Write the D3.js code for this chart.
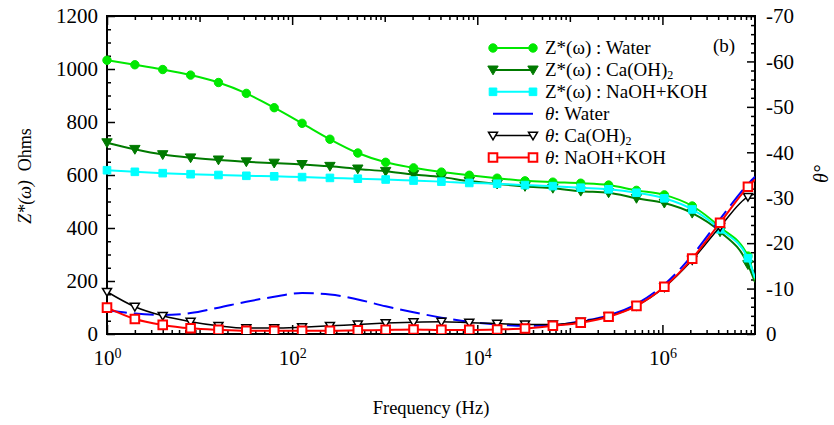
<!DOCTYPE html>
<html>
<head>
<meta charset="utf-8">
<script src="https://cdn.jsdelivr.net/npm/d3@7"></script>
<style>
  body { margin: 0; background: #fff; }
  svg text { font-family: 'Liberation Serif', Tinos, 'Times New Roman', Times, 'DejaVu Serif', serif; }
</style>
</head>
<body>
<svg id="chart" width="834" height="425"></svg>
<script>
// frequencies (Hz): doubling steps, last one is the right edge of the sweep (no marker)
const freqs = [1, 2, 4, 8, 16, 32, 64, 128, 256, 512, 1024, 2048, 4096, 8192, 16384, 32768,
  65536, 131072, 262144, 524288, 1048576, 2097152, 4194304, 8388608, 10000000];

// Z*(w) in Ohms
const zWater = [1033, 1016, 998, 977, 949, 908, 854, 795, 735, 683, 648, 627, 611, 599, 588, 578,
  573, 569, 562, 542, 525, 483, 403, 294, 205];
const zCaOH = [722, 697, 677, 665, 657, 650, 645, 640, 633, 623, 614, 602, 592, 577, 566, 557,
  550, 539, 533, 512, 494, 456, 386, 262, 196];
const zNaKOH = [618, 612, 607, 603, 600, 597, 595, 592, 589, 586, 583, 579, 575, 570, 567, 562,
  558, 552, 546, 533, 512, 470, 395, 286, 210];

// phase angle theta (degrees)
const thWater = [-5.3, -4.5, -4.2, -4.6, -5.8, -7.1, -8.2, -9.0, -8.7, -7.6, -6.1, -4.8, -3.6, -2.7, -2.1, -1.8,
  -1.9, -2.8, -4.1, -6.6, -10.9, -17.3, -25.3, -33.0, -34.6];
const thCaOH = [-9.3, -6.0, -4.0, -2.7, -1.8, -1.3, -1.3, -1.5, -1.8, -2.1, -2.4, -2.6, -2.7, -2.5, -2.3, -2.1,
  -2.1, -2.7, -3.9, -6.2, -10.3, -16.3, -23.6, -30.2, -30.8];
const thNaKOH = [-5.8, -3.3, -2.0, -1.25, -0.9, -0.7, -0.7, -0.7, -0.7, -0.8, -0.9, -1.0, -0.9, -0.9, -1.0, -1.2,
  -1.8, -2.5, -3.8, -6.2, -10.4, -16.6, -24.5, -32.4, -34.0];

// ticks
const zMajor = [0, 200, 400, 600, 800, 1000, 1200];
const zMinor = [50, 100, 150, 250, 300, 350, 450, 500, 550, 650, 700, 750, 850, 900, 950, 1050, 1100, 1150];
const thMajor = [0, -10, -20, -30, -40, -50, -60, -70];
const thMinor = [-2, -4, -6, -8, -12, -14, -16, -18, -22, -24, -26, -28, -32, -34, -36, -38,
  -42, -44, -46, -48, -52, -54, -56, -58, -62, -64, -66, -68];
const xLabeled = [1, 1e2, 1e4, 1e6];
const xOdd = [10, 1e3, 1e5];

const FONT = "'Liberation Serif', Tinos, 'Times New Roman', Times, 'DejaVu Serif', serif";
const svg = d3.select('#chart');
const plot = { left: 107, right: 755, top: 16, bottom: 334 };

const x = d3.scaleLog().domain([1, 1e7]).range([plot.left, plot.right]);
const yZ = d3.scaleLinear().domain([0, 1200]).range([plot.bottom, plot.top]);
const yT = d3.scaleLinear().domain([0, -70]).range([plot.bottom, plot.top]);

const xMinor = [];
for (let d = 0; d < 7; d++) for (let m = 2; m <= 9; m++) xMinor.push(m * Math.pow(10, d));

function addAxis(axis, tx, ty, values, size, fmt) {
  const g = svg.append('g')
    .attr('transform', `translate(${tx},${ty})`)
    .call(axis.tickValues(values).tickSize(size).tickSizeOuter(0).tickFormat(fmt || (() => '')));
  g.select('.domain').remove();
  g.attr('font-family', FONT).attr('font-size', 21);
  g.selectAll('line').attr('stroke', '#000').attr('stroke-width', 1.5);
  return g;
}

// left axis
addAxis(d3.axisLeft(yZ).tickPadding(9), plot.left, 0, zMajor, -8, d => d);
addAxis(d3.axisLeft(yZ), plot.left, 0, zMinor, -4);
// right axis
addAxis(d3.axisRight(yT).tickPadding(11), plot.right, 0, thMajor, -8, d => String(d));
addAxis(d3.axisRight(yT), plot.right, 0, thMinor, -4);
// bottom axis
const bottom = addAxis(d3.axisBottom(x).tickPadding(16), 0, plot.bottom, xLabeled, -9, () => '');
bottom.selectAll('.tick text').each(function (d) {
  const t = d3.select(this);
  t.append('tspan').text('10');
  t.append('tspan').attr('dy', -7).attr('font-size', 14).text(Math.round(Math.log10(d)));
});
addAxis(d3.axisBottom(x), 0, plot.bottom, xOdd, -6);
addAxis(d3.axisBottom(x), 0, plot.bottom, xMinor, -4);
// top axis
addAxis(d3.axisTop(x), 0, plot.top, xLabeled, -9);
addAxis(d3.axisTop(x), 0, plot.top, xOdd, -6);
addAxis(d3.axisTop(x), 0, plot.top, xMinor, -4);

svg.append('rect')
  .attr('x', plot.left).attr('y', plot.top)
  .attr('width', plot.right - plot.left).attr('height', plot.bottom - plot.top)
  .attr('fill', 'none').attr('stroke', '#000').attr('stroke-width', 2);

// marker shapes
function markerPath(type, s) {
  if (type === 'circle') return d3.symbol(d3.symbolCircle, Math.PI * s * s)();
  if (type === 'square') return `M${-s},${-s}H${s}V${s}H${-s}Z`;
  if (type === 'tri') return `M${-s},${-s * 0.75}H${s}L0,${s * 0.95}Z`;
  return '';
}

const series = [
  { vals: zCaOH, y: yZ, color: '#007a00', width: 2, marker: 'tri', ms: 5.2, fill: '#007a00' },
  { vals: zWater, y: yZ, color: '#00e800', width: 2, marker: 'circle', ms: 4.2, fill: '#00e800' },
  { vals: zNaKOH, y: yZ, color: '#00ffff', width: 2, marker: 'square', ms: 3.8, fill: '#00ffff' },
  { vals: thWater, y: yT, color: '#0000ff', width: 2, marker: null, dash: '20,7' },
  { vals: thCaOH, y: yT, color: '#000000', width: 1.5, marker: 'tri', ms: 4.5, fill: '#fff', sw: 1.5 },
  { vals: thNaKOH, y: yT, color: '#ff0000', width: 2, marker: 'square', ms: 4.3, fill: '#fff', sw: 2 }
];

svg.append('clipPath').attr('id', 'plotclip').append('rect')
  .attr('x', plot.left - 10).attr('y', plot.top)
  .attr('width', plot.right - plot.left + 10).attr('height', plot.bottom - plot.top);

const layer = svg.append('g').attr('clip-path', 'url(#plotclip)');

series.forEach(s => {
  const line = d3.line()
    .x((d, i) => x(freqs[i]))
    .y(d => s.y(d))
    .curve(d3.curveMonotoneX);
  layer.append('path')
    .attr('d', line(s.vals))
    .attr('fill', 'none')
    .attr('stroke', s.color)
    .attr('stroke-width', s.width)
    .attr('stroke-dasharray', s.dash || null);
  if (s.marker) {
    layer.selectAll(null)
      .data(s.vals.filter((d, i) => i < freqs.length - 1))
      .enter().append('path')
      .attr('transform', (d, i) => `translate(${x(freqs[i])},${s.y(d)})`)
      .attr('d', markerPath(s.marker, s.ms))
      .attr('fill', s.fill)
      .attr('stroke', s.color)
      .attr('stroke-width', s.sw || 1);
  }
});

// legend
const legendRows = [
  { s: series[1], label: [['Z*(ω) : Water']] },
  { s: series[0], label: [['Z*(ω) : Ca(OH)'], ['2', 'sub']] },
  { s: series[2], label: [['Z*(ω) : NaOH+KOH']] },
  { s: series[3], label: [['θ', 'it'], [': Water']] },
  { s: series[4], label: [['θ', 'it'], [': Ca(OH)'], ['2', 'sub']] },
  { s: series[5], label: [['θ', 'it'], [': NaOH+KOH']] }
];
const legend = svg.append('g').attr('transform', 'translate(493,48)');
legendRows.forEach((r, i) => {
  const g = legend.append('g').attr('transform', `translate(0,${i * 21.9})`);
  g.append('line').attr('x1', 0).attr('x2', 40)
    .attr('stroke', r.s.color).attr('stroke-width', r.s.width);
  if (r.s.marker) {
    [0, 40].forEach(px => g.append('path')
      .attr('transform', `translate(${px},0)`)
      .attr('d', markerPath(r.s.marker, r.s.ms))
      .attr('fill', r.s.fill).attr('stroke', r.s.color).attr('stroke-width', r.s.sw || 1));
  }
  const t = g.append('text').attr('x', 52).attr('y', 6).attr('font-size', 19);
  r.label.forEach(([txt, kind]) => {
    const sp = t.append('tspan').text(txt);
    if (kind === 'it') sp.attr('font-style', 'italic');
    if (kind === 'sub') sp.attr('dy', 3).attr('font-size', 12);
  });
});

svg.append('text').attr('x', 713).attr('y', 52).attr('font-size', 19).text('(b)');

// axis titles
svg.append('text').attr('x', 431).attr('y', 414).attr('text-anchor', 'middle')
  .attr('font-size', 18.5).text('Frequency (Hz)');

const yTitle = svg.append('text')
  .attr('transform', 'translate(31,176) rotate(-90)')
  .attr('text-anchor', 'middle').attr('font-size', 18);
yTitle.append('tspan').attr('font-style', 'italic').text('Z*(ω)');
yTitle.append('tspan').text('\u00a0\u00a0Ohms');

svg.append('text')
  .attr('transform', 'translate(828,174) rotate(-90)')
  .attr('text-anchor', 'middle').attr('font-size', 20).attr('font-style', 'italic')
  .text('θ°');
</script>
</body>
</html>
